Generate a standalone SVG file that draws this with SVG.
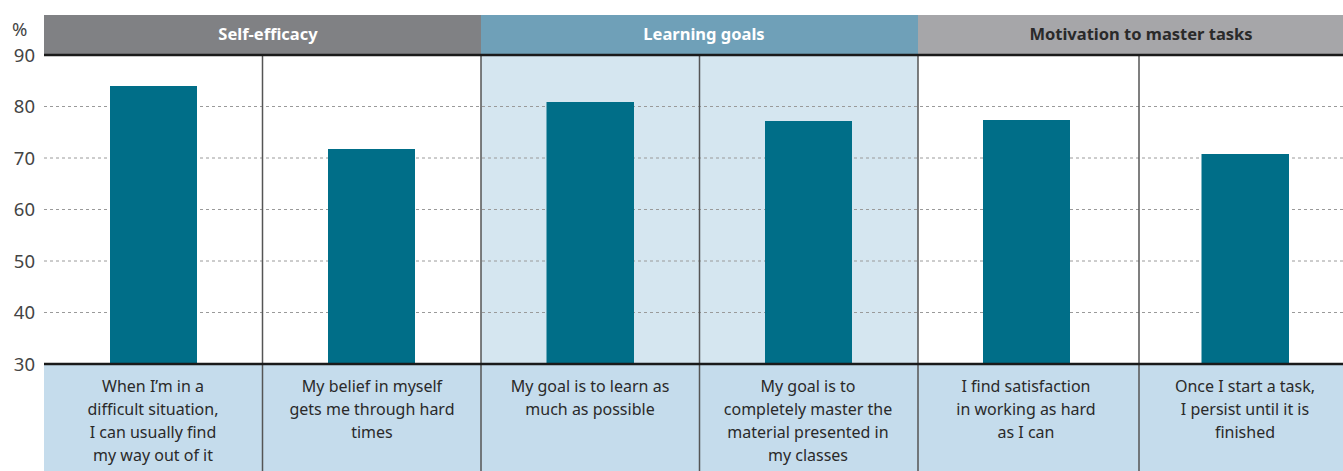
<svg xmlns="http://www.w3.org/2000/svg" width="1343" height="471" viewBox="0 0 1343 471">
<style>
.ax{font-family:"Noto Sans","Open Sans",sans-serif;font-size:18.5px;fill:#444}
.hd{font-family:"Noto Sans","Open Sans",sans-serif;font-size:16.5px;font-weight:bold;text-anchor:middle}
.lb{font-family:"Noto Sans","Open Sans",sans-serif;font-size:16px;fill:#2a2a2a;text-anchor:middle}
.grid{stroke:#9a9a9a;stroke-width:1;stroke-dasharray:3,3}
.sep{stroke:#555;stroke-width:1.5}
.bar{fill:#006e88}
</style>
<rect x="0" y="0" width="1343" height="471" fill="#fff"/>
<!-- backgrounds -->
<rect x="481" y="55" width="437" height="309" fill="#d5e6f0"/>
<rect x="44" y="364" width="1299" height="107" fill="#c5dcec"/>
<!-- gridlines -->
<g id="grid">
<line class="grid" x1="44" y1="106.5" x2="1343" y2="106.5"/>
<line class="grid" x1="44" y1="158" x2="1343" y2="158"/>
<line class="grid" x1="44" y1="209.5" x2="1343" y2="209.5"/>
<line class="grid" x1="44" y1="261" x2="1343" y2="261"/>
<line class="grid" x1="44" y1="312.5" x2="1343" y2="312.5"/>
</g>
<!-- axis labels -->
<g id="axis">
<text class="ax" x="12" y="36">%</text>
<text class="ax" x="35" y="62" text-anchor="end">90</text>
<text class="ax" x="35" y="113" text-anchor="end">80</text>
<text class="ax" x="35" y="165" text-anchor="end">70</text>
<text class="ax" x="35" y="216" text-anchor="end">60</text>
<text class="ax" x="35" y="268" text-anchor="end">50</text>
<text class="ax" x="35" y="319" text-anchor="end">40</text>
<text class="ax" x="35" y="371" text-anchor="end">30</text>
</g>
<!-- bars -->
<g id="bars">
<rect class="bar" x="110" y="86" width="87" height="278"/>
<rect class="bar" x="328" y="149" width="87" height="215"/>
<rect class="bar" x="546.5" y="102" width="87.5" height="262"/>
<rect class="bar" x="765" y="121" width="87" height="243"/>
<rect class="bar" x="983" y="120" width="87" height="244"/>
<rect class="bar" x="1201.5" y="154" width="87.5" height="210"/>
</g>
<!-- headers -->
<g id="header-self-efficacy">
<rect x="44" y="15" width="437" height="40" fill="#808184"/>
<text class="hd" x="268" y="40" fill="#fff">Self-efficacy</text>
</g>
<g id="header-learning-goals">
<rect x="481" y="15" width="437" height="40" fill="#6fa0b8"/>
<text class="hd" x="704" y="40" fill="#fff">Learning goals</text>
</g>
<g id="header-motivation">
<rect x="918" y="15" width="425" height="40" fill="#a6a6a9"/>
<text class="hd" x="1141" y="40" fill="#2a2a2a">Motivation to master tasks</text>
</g>
<!-- separators -->
<g id="separators">
<line class="sep" x1="262.5" y1="55" x2="262.5" y2="471"/>
<line class="sep" x1="481" y1="55" x2="481" y2="471"/>
<line class="sep" x1="699.5" y1="55" x2="699.5" y2="471"/>
<line class="sep" x1="918" y1="55" x2="918" y2="471"/>
<line class="sep" x1="1139" y1="55" x2="1139" y2="471"/>
<line x1="44" y1="55" x2="1343" y2="55" stroke="#1a1a1a" stroke-width="2.5"/>
<line x1="44" y1="364" x2="1343" y2="364" stroke="#1a1a1a" stroke-width="2.5"/>
</g>
<!-- labels -->
<g id="label-1">
<text class="lb" x="153" y="392">When I’m in a</text>
<text class="lb" x="153" y="415">difficult situation,</text>
<text class="lb" x="153" y="438">I can usually find</text>
<text class="lb" x="153" y="461">my way out of it</text>
</g>
<g id="label-2">
<text class="lb" x="372" y="392">My belief in myself</text>
<text class="lb" x="372" y="415">gets me through hard</text>
<text class="lb" x="372" y="438">times</text>
</g>
<g id="label-3">
<text class="lb" x="590" y="392">My goal is to learn as</text>
<text class="lb" x="590" y="415">much as possible</text>
</g>
<g id="label-4">
<text class="lb" x="808" y="392">My goal is to</text>
<text class="lb" x="808" y="415">completely master the</text>
<text class="lb" x="808" y="438">material presented in</text>
<text class="lb" x="808" y="461">my classes</text>
</g>
<g id="label-5">
<text class="lb" x="1026" y="392">I find satisfaction</text>
<text class="lb" x="1026" y="415">in working as hard</text>
<text class="lb" x="1026" y="438">as I can</text>
</g>
<g id="label-6">
<text class="lb" x="1245" y="392">Once I start a task,</text>
<text class="lb" x="1245" y="415">I persist until it is</text>
<text class="lb" x="1245" y="438">finished</text>
</g>
</svg>
